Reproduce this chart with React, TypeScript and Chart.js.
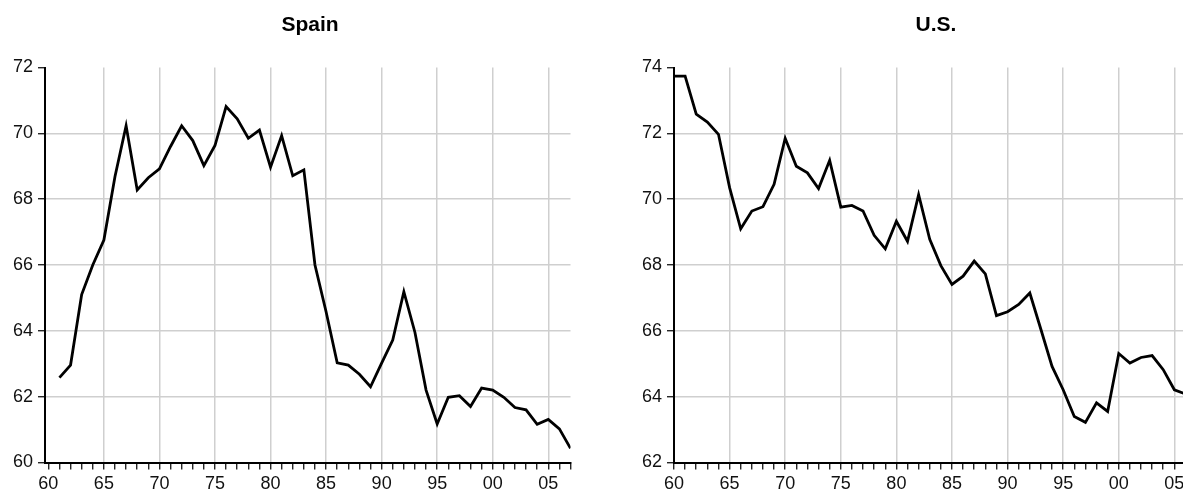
import React, { useEffect, useRef } from 'react';
import { Chart, registerables } from 'chart.js';

Chart.register(...registerables);

const spainYears = [
  1961, 1962, 1963, 1964, 1965, 1966, 1967, 1968, 1969, 1970,
  1971, 1972, 1973, 1974, 1975, 1976, 1977, 1978, 1979, 1980,
  1981, 1982, 1983, 1984, 1985, 1986, 1987, 1988, 1989, 1990,
  1991, 1992, 1993, 1994, 1995, 1996, 1997, 1998, 1999, 2000,
  2001, 2002, 2003, 2004, 2005, 2006, 2007,
];
const spainValues = [
  62.58, 62.96, 65.1, 66.0, 66.76, 68.69, 70.23, 68.28, 68.65, 68.92,
  69.6, 70.23, 69.78, 69.02, 69.63, 70.81, 70.44, 69.85, 70.1, 68.97,
  69.93, 68.71, 68.89, 66.0, 64.58, 63.03, 62.96, 62.68, 62.3, 63.02,
  63.72, 65.19, 63.95, 62.2, 61.17, 61.98, 62.03, 61.7, 62.26, 62.2,
  61.98, 61.67, 61.6, 61.16, 61.31, 61.02, 60.43,
];

const usYears = [
  1960, 1961, 1962, 1963, 1964, 1965, 1966, 1967, 1968, 1969,
  1970, 1971, 1972, 1973, 1974, 1975, 1976, 1977, 1978, 1979,
  1980, 1981, 1982, 1983, 1984, 1985, 1986, 1987, 1988, 1989,
  1990, 1991, 1992, 1993, 1994, 1995, 1996, 1997, 1998, 1999,
  2000, 2001, 2002, 2003, 2004, 2005, 2006,
];
const usValues = [
  73.74, 73.74, 72.58, 72.34, 71.97, 70.35, 69.1, 69.64, 69.77, 70.45,
  71.85, 71.0, 70.8, 70.32, 71.18, 69.76, 69.81, 69.64, 68.9, 68.49,
  69.33, 68.72, 70.14, 68.78, 67.98, 67.41, 67.66, 68.12, 67.73, 66.46,
  66.58, 66.8, 67.15, 66.04, 64.92, 64.21, 63.4, 63.22, 63.81, 63.55,
  65.31, 65.02, 65.19, 65.25, 64.82, 64.21, 64.08,
];

const xTickYears = [
  1960, 1961, 1962, 1963, 1964, 1965, 1966, 1967, 1968, 1969,
  1970, 1971, 1972, 1973, 1974, 1975, 1976, 1977, 1978, 1979,
  1980, 1981, 1982, 1983, 1984, 1985, 1986, 1987, 1988, 1989,
  1990, 1991, 1992, 1993, 1994, 1995, 1996, 1997, 1998, 1999,
  2000, 2001, 2002, 2003, 2004, 2005, 2006, 2007,
];
const xLabeledYears = [1960, 1965, 1970, 1975, 1980, 1985, 1990, 1995, 2000, 2005];
const xTickLabels = ['60', '65', '70', '75', '80', '85', '90', '95', '00', '05'];

const spainYTicks = [60, 62, 64, 66, 68, 70, 72];
const usYTicks = [62, 64, 66, 68, 70, 72, 74];

const FONT = "'Liberation Sans', Arial, Helvetica, sans-serif";
const GRID = '#cfcfcf';
const CLEAR = 'rgba(0,0,0,0)';

interface PanelProps {
  years: number[];
  values: number[];
  yTicks: number[];
  xMin: number;
  xMax: number;
  width: number;
  axisWidth: number;
  padRight: number;
}

function Panel(props: PanelProps) {
  const ref = useRef<HTMLCanvasElement | null>(null);
  useEffect(() => {
    if (!ref.current) return;
    const { years, values, yTicks, xMin, xMax, axisWidth, padRight } = props;
    const yMin = yTicks[0];
    const yMax = yTicks[yTicks.length - 1];
    const chart = new Chart(ref.current, {
      type: 'line',
      data: {
        datasets: [
          {
            data: years.map((y, i) => ({ x: y, y: values[i] })),
            borderColor: '#000',
            borderWidth: 2.8,
            pointRadius: 0,
            tension: 0,
            borderJoinStyle: 'miter',
            fill: false,
          },
        ],
      },
      options: {
        animation: false,
        responsive: false,
        devicePixelRatio: 1,
        layout: { padding: { top: 67.5, right: padRight, bottom: 0, left: 0 } },
        plugins: {
          legend: { display: false },
          tooltip: { enabled: false },
          title: { display: false },
        },
        scales: {
          x: {
            type: 'linear',
            min: xMin,
            max: xMax,
            afterBuildTicks: (scale: any) => {
              scale.ticks = xTickYears.map((v) => ({ value: v }));
            },
            afterFit: (scale: any) => {
              scale.height = 26.5;
            },
            ticks: {
              autoSkip: false,
              maxRotation: 0,
              minRotation: 0,
              padding: 4,
              color: '#111',
              font: { family: FONT, size: 18 },
              callback: (v: any) => {
                const i = xLabeledYears.indexOf(Number(v));
                return i >= 0 ? xTickLabels[i] : '';
              },
            },
            grid: {
              color: (ctx: any) => {
                const v = ctx.tick ? ctx.tick.value : NaN;
                return v % 5 === 0 && v > xMin + 0.5 ? GRID : CLEAR;
              },
              lineWidth: 1.5,
              tickColor: '#000',
              tickLength: 7,
              tickWidth: 1.2,
              drawTicks: true,
            },
            border: { display: true, color: '#000', width: 2 },
          },
          y: {
            type: 'linear',
            min: yMin,
            max: yMax,
            afterBuildTicks: (scale: any) => {
              scale.ticks = yTicks.map((v) => ({ value: v }));
            },
            afterFit: (scale: any) => {
              scale.width = axisWidth;
            },
            ticks: {
              padding: 5,
              color: '#111',
              font: { family: FONT, size: 18 },
              callback: (v: any) => String(v),
            },
            grid: {
              color: (ctx: any) => {
                const v = ctx.tick ? ctx.tick.value : NaN;
                return v > yMin && v < yMax ? GRID : CLEAR;
              },
              lineWidth: 1.5,
              tickColor: '#000',
              tickLength: 7,
              tickWidth: 1.2,
              drawTicks: true,
            },
            border: { display: true, color: '#000', width: 2 },
          },
        },
      },
    } as any);
    return () => chart.destroy();
  }, []);
  return <canvas ref={ref} width={props.width} height={489} style={{ display: 'block', width: props.width, height: 489 }} />;
}

const titleStyle: React.CSSProperties = {
  position: 'absolute',
  top: 13.5,
  width: 200,
  textAlign: 'center',
  fontFamily: FONT,
  fontWeight: 'bold',
  fontSize: 21,
  lineHeight: '20px',
  color: '#000',
  whiteSpace: 'nowrap',
};

export default function App() {
  return (
    <div
      style={{
        position: 'absolute',
        left: 0,
        top: 0,
        width: 1183,
        height: 489,
        overflow: 'hidden',
        background: '#fff',
      }}
    >
      <div style={{ position: 'absolute', left: 0, top: 0 }}>
        <Panel
          years={spainYears}
          values={spainValues}
          yTicks={spainYTicks}
          xMin={1959.7}
          xMax={2007}
          width={590}
          axisWidth={45}
          padRight={19.5}
        />
      </div>
      <div style={{ position: 'absolute', left: 590, top: 0 }}>
        <Panel
          years={usYears}
          values={usValues}
          yTicks={usYTicks}
          xMin={1960}
          xMax={2007}
          width={640}
          axisWidth={84}
          padRight={33.4}
        />
      </div>
      <div style={{ ...titleStyle, left: 210 }}>Spain</div>
      <div style={{ ...titleStyle, left: 836 }}>U.S.</div>
    </div>
  );
}
